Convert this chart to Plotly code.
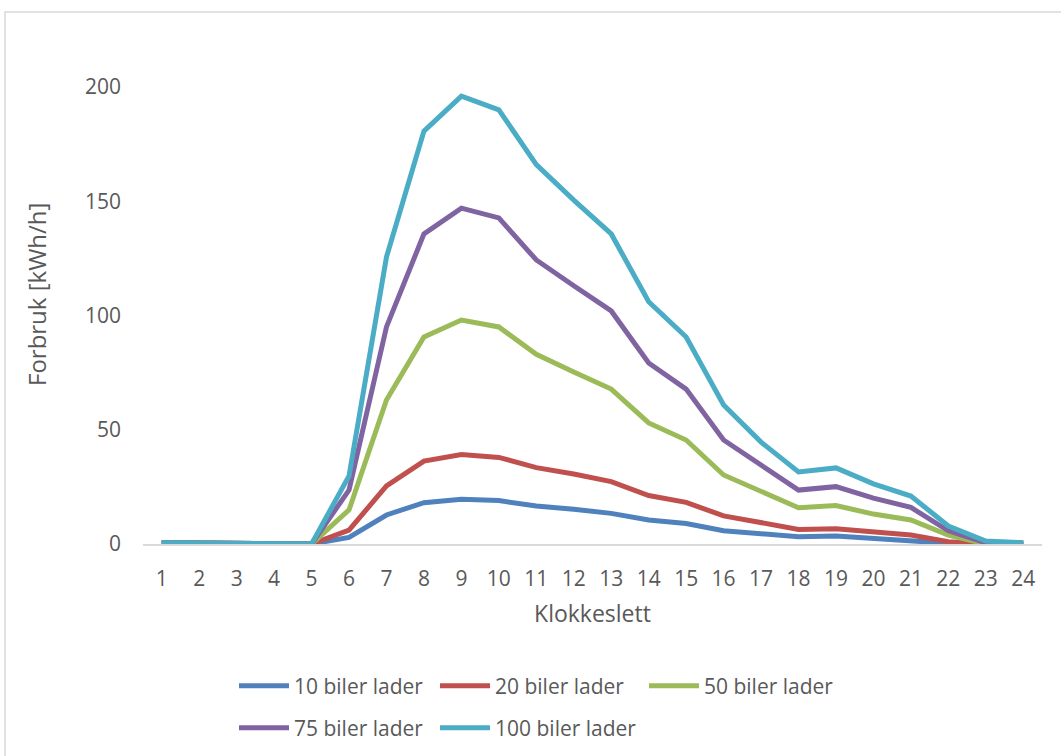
import plotly.graph_objects as go

hours = list(range(1, 25))
hour_labels = [str(h) for h in hours]
y_ticks = [0, 50, 100, 150, 200]

series_names = ["10 biler lader", "20 biler lader", "50 biler lader", "75 biler lader", "100 biler lader"]

cars_10 = [0.5, 0.5, 0.4, 0, 0, 2.9, 12.7, 18.1, 19.6, 19.0, 16.6, 15.2, 13.4, 10.5, 9.0, 5.8, 4.5, 3.2, 3.5, 2.5, 1.8, 0.3, 0, 0]
cars_20 = [0.5, 0.5, 0.4, 0, 0, 6.1, 25.4, 36.3, 39.2, 37.9, 33.4, 30.6, 27.3, 21.2, 18.2, 12.3, 9.2, 6.4, 6.7, 5.1, 3.9, 1.0, 0, 0]
cars_50 = [0.5, 0.5, 0.4, 0, 0, 14.9, 63.0, 90.6, 98.0, 95.0, 83.0, 75.3, 67.8, 53.0, 45.5, 30.2, 22.8, 15.9, 16.8, 13.1, 10.5, 3.9, 0, 0]
cars_75 = [0.5, 0.5, 0.4, 0, 0, 23.6, 95.0, 135.7, 147.0, 142.7, 124.3, 113.0, 102.0, 79.2, 67.8, 45.5, 34.6, 23.6, 25.1, 20.1, 16.0, 5.8, 0.5, 0.5]
cars_100 = [0.5, 0.5, 0.4, 0, 0, 29.8, 125.6, 180.7, 196.0, 190.0, 166.0, 150.5, 135.7, 106.0, 90.6, 60.8, 44.6, 31.5, 33.3, 26.3, 21.0, 7.9, 1.3, 0.5]

series_values = [cars_10, cars_20, cars_50, cars_75, cars_100]
colors = ["#4F81BD", "#C0504D", "#9BBB59", "#8064A2", "#4BACC6"]
legend_ids = ["legend", "legend2", "legend3", "legend4", "legend5"]

FONT = "Open Sans"
GREY = "#595959"

fig = go.Figure()
for name, vals, col, lg in zip(series_names, series_values, colors, legend_ids):
    fig.add_trace(go.Scatter(
        x=hours, y=vals, name=name, mode="lines",
        line=dict(color=col, width=5), legend=lg,
    ))

W, H = 1061, 756
L, R, T, B = 143, 19, 87, 212
pw = W - L - R
ph = H - T - B

def px_x(p):
    return (p - L) / pw

def px_y(p):
    return (H - B - p) / ph

legend_common = dict(
    orientation="h", xanchor="left", yanchor="middle",
    font=dict(family=FONT, size=21, color=GREY),
    itemwidth=50, bgcolor="rgba(0,0,0,0)",
)

# pixel anchors of the legend entries (line sample start, row centre)
legend_slots = [(240, 686), (441, 686), (650, 686), (240, 728), (441, 728)]
legend_layout = {}
for lg, (lx, ly) in zip(legend_ids, legend_slots):
    legend_layout[lg] = dict(x=px_x(lx - 6), y=px_y(ly), **legend_common)

fig.update_layout(
    width=W, height=H,
    margin=dict(l=L, r=R, t=T, b=B, pad=0, autoexpand=False),
    paper_bgcolor="white", plot_bgcolor="white",
    font=dict(family=FONT, color=GREY),
    xaxis=dict(
        range=[0.5, 24.5], tickmode="array", tickvals=hours, ticktext=hour_labels,
        showgrid=False, zeroline=False, showline=True, linecolor="#D9D9D9", linewidth=1.5,
        ticks="", tickfont=dict(family=FONT, size=21, color=GREY), ticklabelstandoff=15,
        title=dict(text="Klokkeslett", font=dict(family=FONT, size=23, color=GREY), standoff=15),
        fixedrange=True,
    ),
    yaxis=dict(
        range=[0, 200], tickmode="array", tickvals=y_ticks,
        showgrid=False, zeroline=False, showline=False,
        ticks="", tickfont=dict(family=FONT, size=21, color=GREY), ticklabelstandoff=21,
        fixedrange=True,
    ),
    annotations=[dict(
        text="Forbruk [kWh/h]", xref="paper", yref="paper",
        x=px_x(36), y=px_y(295), xanchor="center", yanchor="middle",
        textangle=-90, showarrow=False,
        font=dict(family=FONT, size=24, color=GREY),
    )],
    showlegend=True,
    shapes=[dict(
        type="rect", xref="paper", yref="paper",
        x0=px_x(5), x1=px_x(1100), y0=px_y(800), y1=px_y(12),
        line=dict(color="#D9D9D9", width=1.5), fillcolor="rgba(0,0,0,0)", layer="below",
    )],
    **legend_layout,
)

fig.write_html("out.html")
